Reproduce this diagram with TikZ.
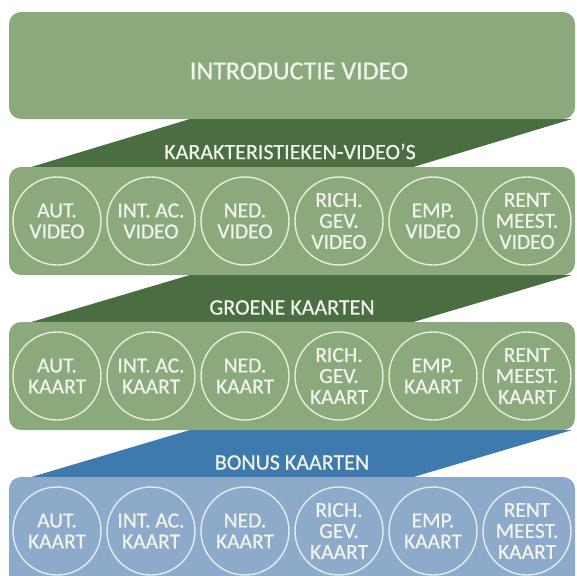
\documentclass[tikz,border=0pt]{standalone}
\usepackage{fontspec}
\setmainfont{Carlito}
\newfontfamily\plaquefont[FakeBold=0.6]{Carlito}
\usetikzlibrary{positioning}

\definecolor{PanelGreen}{HTML}{8CA97D}
\definecolor{BandGreen}{HTML}{4A6D42}
\definecolor{BandBlue}{HTML}{3E7AAE}
\definecolor{PanelBlue}{HTML}{8EAACA}
\definecolor{RingGreen}{HTML}{E6EED8}
\definecolor{RingBlue}{HTML}{E2EAF3}
\definecolor{LabelWhite}{HTML}{F1F4EC}

\tikzset{
  panel/.style={rounded corners=12pt, minimum width=566pt, inner sep=0pt, outer sep=0pt, text=LabelWhite},
  badge/.style={circle, minimum size=88pt, inner sep=0pt, outer sep=0pt, line width=1.4pt, align=center, text=LabelWhite, font=\plaquefont\fontsize{21.5}{21}\selectfont},
  bandlabel/.style={text=LabelWhite, inner sep=0pt, font=\plaquefont\fontsize{22}{24}\selectfont}
}

\begin{document}
\begin{tikzpicture}[x=1pt, y=-1pt]
  \path[use as bounding box, clip] (0,0) rectangle (577,575);

  % introductie
  \node[panel, fill=PanelGreen, minimum height=107pt](Intro) at (292,65.5){};
  \node[bandlabel, font=\plaquefont\fontsize{26}{28}\selectfont](IntroLabel) at (299,71){INTRODUCTIE VIDEO};

  % karakteristieken-video's
  \fill[BandGreen] (190,119) -- (572,119) -- (410,168) -- (28,168) -- cycle;
  \node[panel, fill=PanelGreen, minimum height=108pt](VideoPanel) at (292,221){};
  \node[bandlabel](VideoBand) at (290,151.5){KARAKTERISTIEKEN-VIDEO’S};
  \node[badge, draw=RingGreen](VideoAut) at (57,221){AUT.\\VIDEO};
  \node[badge, draw=RingGreen, right=6pt of VideoAut](VideoInt){INT. AC.\\VIDEO};
  \node[badge, draw=RingGreen, right=6pt of VideoInt](VideoNed){NED.\\VIDEO};
  \node[badge, draw=RingGreen, right=6pt of VideoNed](VideoRich){RICH.\\GEV.\\VIDEO};
  \node[badge, draw=RingGreen, right=6pt of VideoRich](VideoEmp){EMP.\\VIDEO};
  \node[badge, draw=RingGreen, right=6pt of VideoEmp](VideoRent){RENT\\MEEST.\\VIDEO};

  % groene kaarten
  \fill[BandGreen] (190,275) -- (572,275) -- (410,323) -- (28,323) -- cycle;
  \node[panel, fill=PanelGreen, minimum height=108pt](GreenPanel) at (292,376){};
  \node[bandlabel](GreenBand) at (292,307.5){GROENE KAARTEN};
  \node[badge, draw=RingGreen](GreenAut) at (57,376){AUT.\\KAART};
  \node[badge, draw=RingGreen, right=6pt of GreenAut](GreenInt){INT. AC.\\KAART};
  \node[badge, draw=RingGreen, right=6pt of GreenInt](GreenNed){NED.\\KAART};
  \node[badge, draw=RingGreen, right=6pt of GreenNed](GreenRich){RICH.\\GEV.\\KAART};
  \node[badge, draw=RingGreen, right=6pt of GreenRich](GreenEmp){EMP.\\KAART};
  \node[badge, draw=RingGreen, right=6pt of GreenEmp](GreenRent){RENT\\MEEST.\\KAART};

  % bonus kaarten
  \fill[BandBlue] (190,430) -- (572,430) -- (410,478) -- (28,478) -- cycle;
  \node[panel, fill=PanelBlue, minimum height=113pt](BonusPanel) at (292,533.5){};
  \node[bandlabel](BonusBand) at (292,462.5){BONUS KAARTEN};
  \node[badge, draw=RingBlue](BonusAut) at (57,531){AUT.\\KAART};
  \node[badge, draw=RingBlue, right=6pt of BonusAut](BonusInt){INT. AC.\\KAART};
  \node[badge, draw=RingBlue, right=6pt of BonusInt](BonusNed){NED.\\KAART};
  \node[badge, draw=RingBlue, right=6pt of BonusNed](BonusRich){RICH.\\GEV.\\KAART};
  \node[badge, draw=RingBlue, right=6pt of BonusRich](BonusEmp){EMP.\\KAART};
  \node[badge, draw=RingBlue, right=6pt of BonusEmp](BonusRent){RENT\\MEEST.\\KAART};
\end{tikzpicture}
\end{document}
